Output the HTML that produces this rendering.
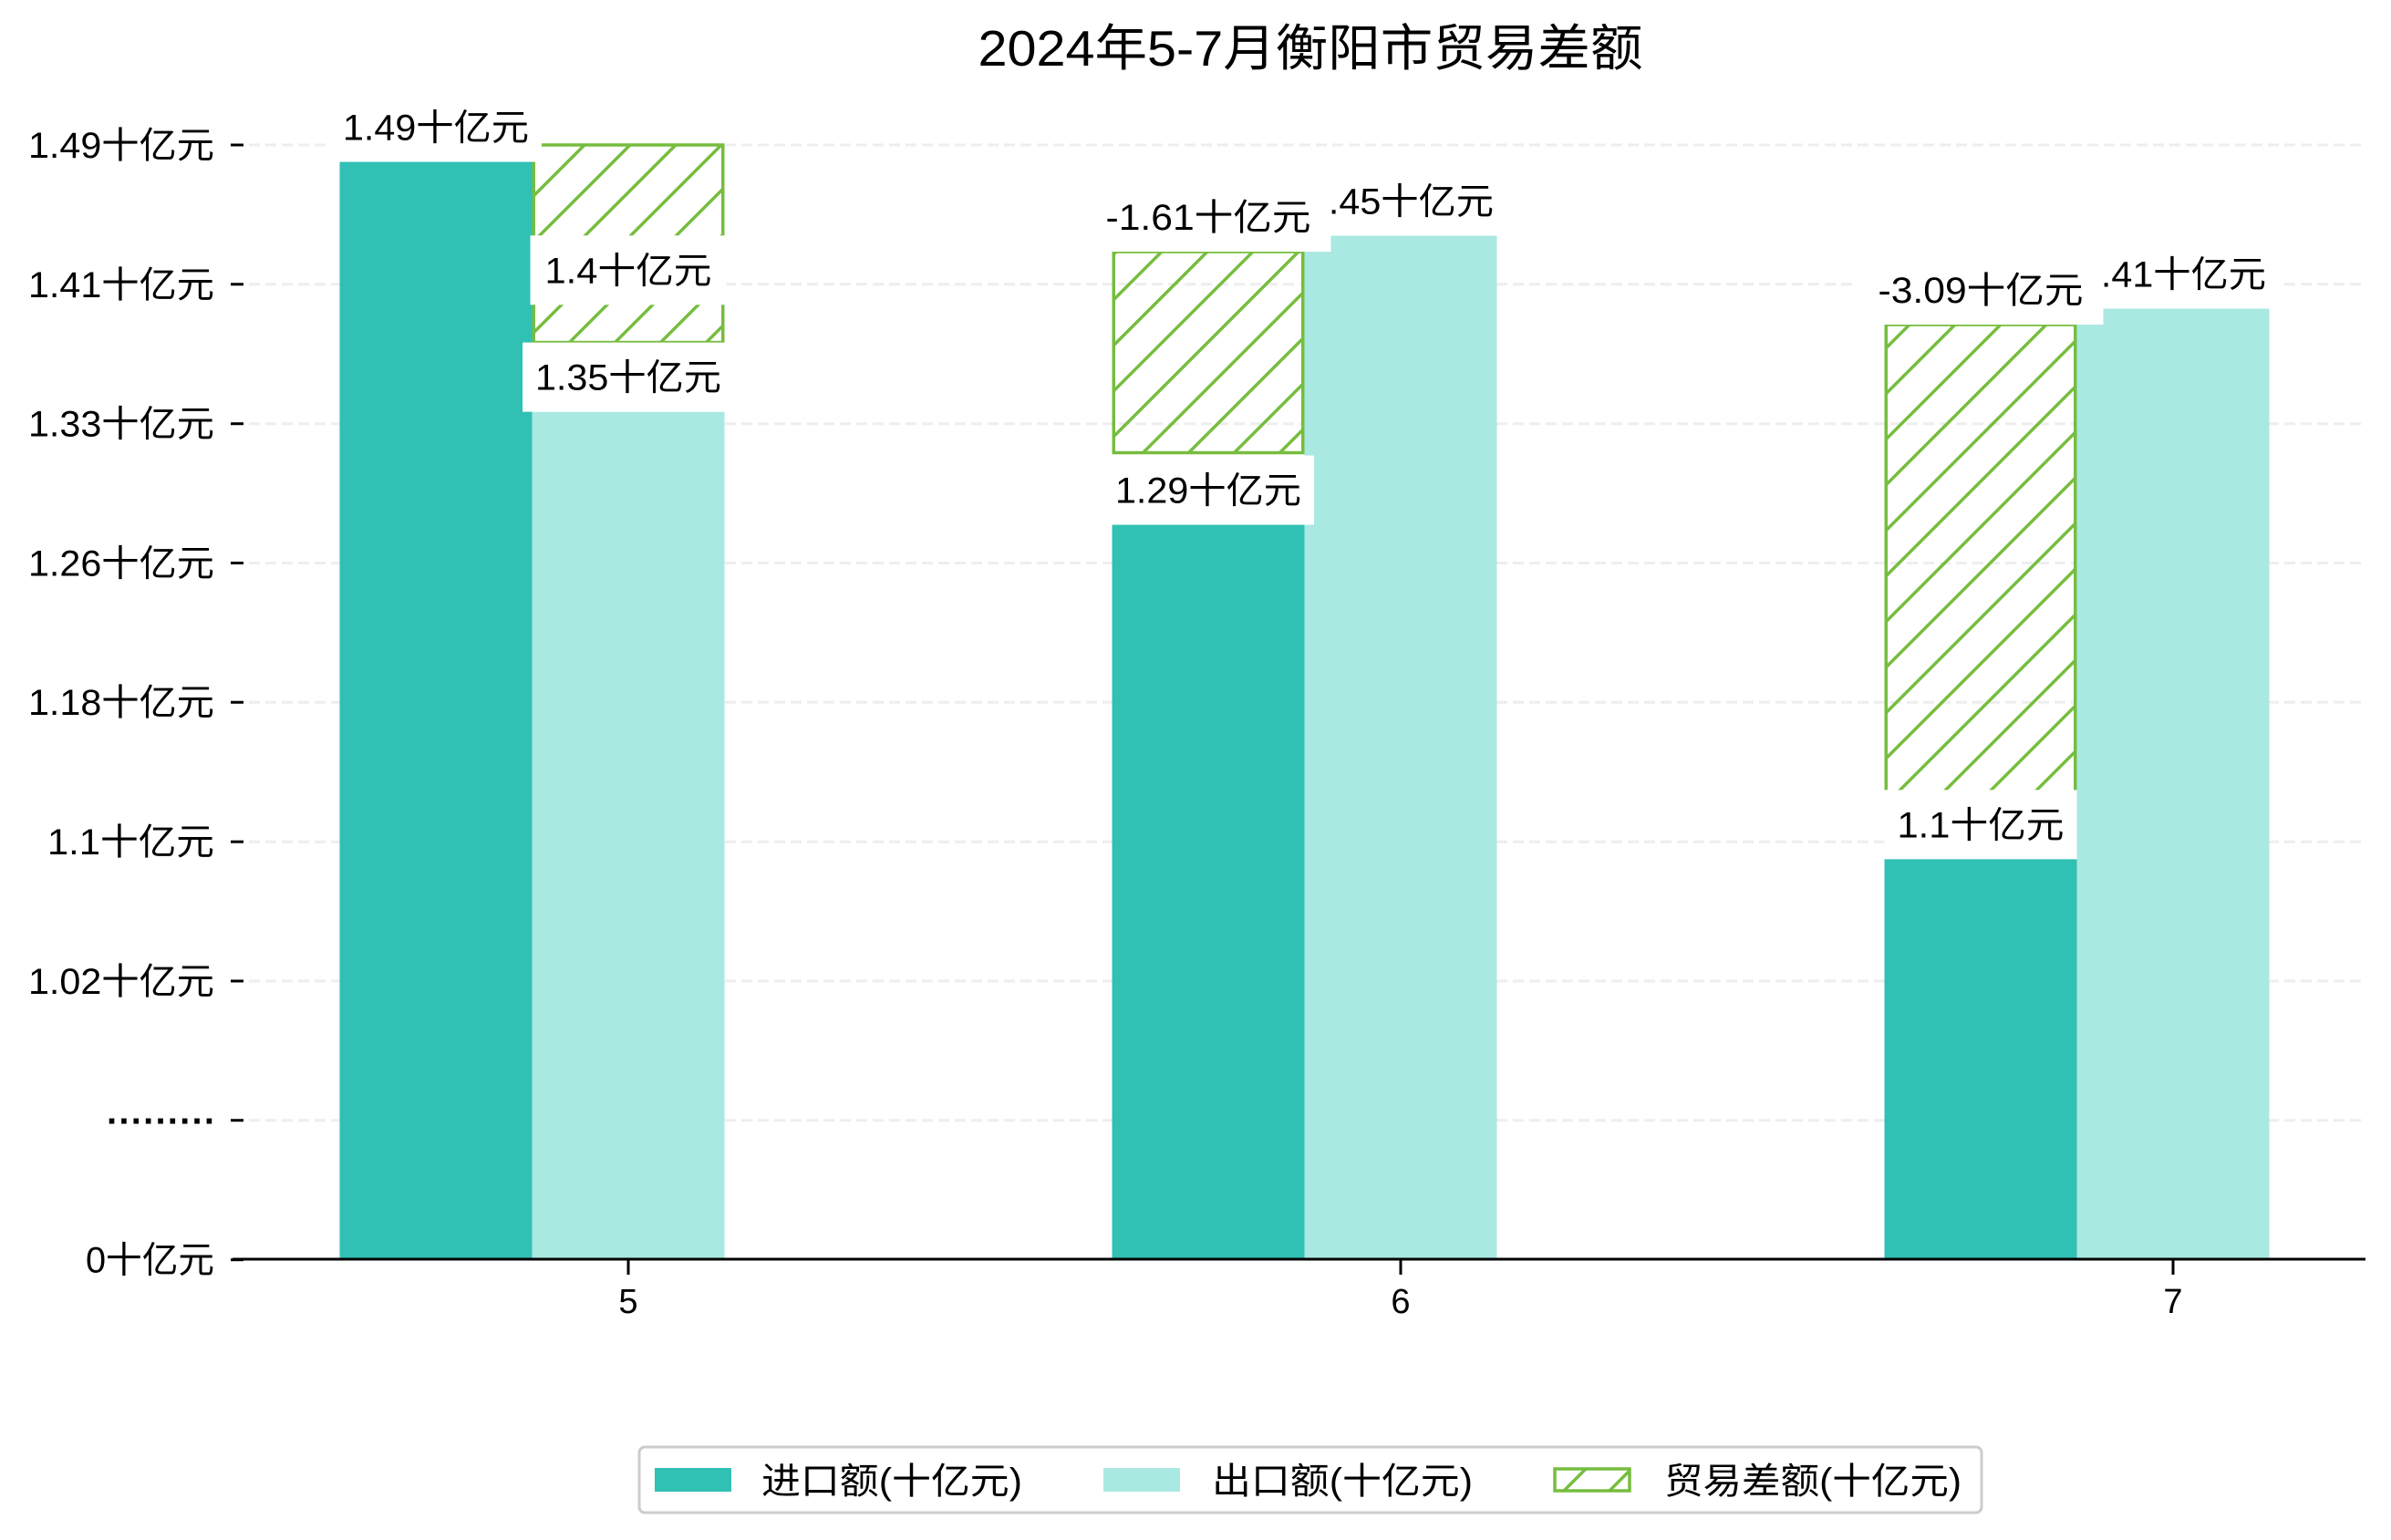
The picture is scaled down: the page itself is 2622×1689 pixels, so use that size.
<!DOCTYPE html>
<html><head><meta charset="utf-8">
<style>
html,body{margin:0;padding:0;background:#fff;}
svg{display:block;font-family:"Liberation Sans","Noto Sans CJK SC",sans-serif;}
</style></head>
<body>
<svg id="chart" width="2622" height="1689" viewBox="0 0 2622 1689" xmlns="http://www.w3.org/2000/svg">
<defs>
<pattern id="hatch" patternUnits="userSpaceOnUse" width="50" height="50">
<path d="M-5,5 L5,-5 M0,50 L50,0 M45,55 L55,45" stroke="#76BD3F" stroke-width="3.5"/>
</pattern>
</defs>
<text x="1437" y="72" font-size="55" text-anchor="middle" textLength="729" lengthAdjust="spacingAndGlyphs">2024年5-7月衡阳市贸易差额</text>
<g id="grid"></g>
<g id="bars"></g>
<g id="labels"></g>
<g id="axes"></g>
<g>
<rect x="701" y="1587" width="1472" height="72" rx="6" fill="#fff" stroke="#ccc" stroke-width="3"/>
<rect x="718" y="1610" width="84" height="26" fill="#31C0B4"/>
<text x="835" y="1638" font-size="40" textLength="286" lengthAdjust="spacingAndGlyphs">进口额(十亿元)</text>
<rect x="1210" y="1610" width="84" height="26" fill="#AAE8E2"/>
<text x="1329" y="1638" font-size="40" textLength="286" lengthAdjust="spacingAndGlyphs">出口额(十亿元)</text>
<rect x="1705" y="1611" width="82" height="24" fill="url(#hatch)" stroke="#76BD3F" stroke-width="3.5"/>
<text x="1825" y="1638" font-size="40" textLength="326" lengthAdjust="spacingAndGlyphs">贸易差额(十亿元)</text>
</g>
</svg>
<script>
const categories = ["5","6","7"];
const importValues = [1.481, 1.277, 1.089];
const exportValues = [1.340, 1.439, 1.398];
const balanceTop = [1.490, 1.430, 1.389];
const balanceBottom = [1.379, 1.317, 1.126];
const importLabels = ["1.49十亿元","1.29十亿元","1.1十亿元"];
const exportLabels = ["1.35十亿元","1.45十亿元","1.41十亿元"];
const balanceLabels = ["1.4十亿元","-1.61十亿元","-3.09十亿元"];
const yTickValues = [1.49,1.4117,1.3333,1.255,1.1767,1.0983,1.02,0.9417,0.8633];
const yTickLabels = ["1.49十亿元","1.41十亿元","1.33十亿元","1.26十亿元","1.18十亿元","1.1十亿元","1.02十亿元",".........","0十亿元"];

const NS = "http://www.w3.org/2000/svg";
const baseY = 1381, plotL = 255, plotR = 2594;
function yScale(v){ return 159 + (1.49 - v) * 1951; }
function xCenter(i){ return 689 + i * 847; }
const barW = 211;
function mk(tag, attrs, parent){ const e=document.createElementNS(NS,tag); for(const k in attrs) e.setAttribute(k,attrs[k]); parent.appendChild(e); return e; }
function textW(s){ let w=0; for(const ch of s){ w += (ch.charCodeAt(0)>255)?40:21; } return w; }

const grid=document.getElementById('grid'), bars=document.getElementById('bars'), labels=document.getElementById('labels'), axes=document.getElementById('axes');

yTickValues.forEach((v,i)=>{
  const y=yScale(v);
  if(i<yTickValues.length-1){
    const g=mk('line',{x1:plotL,x2:plotR,y1:y,y2:y,stroke:'#eeeeee','stroke-width':3,'stroke-dasharray':'12 6'},grid);
    
    
  }
  const t=mk('line',{x1:253,x2:267,y1:y,y2:y,stroke:'#000','stroke-width':3},axes);
  
  
  const s=yTickLabels[i];
  const tx=mk('text',{x:235,y:y+14,'font-size':40,'text-anchor':'end'},axes);
  if(s.indexOf('.........')===0){ tx.setAttribute('font-weight','bold'); tx.setAttribute('y',y+4); tx.setAttribute('textLength',118); tx.setAttribute('lengthAdjust','spacing'); } else { tx.setAttribute('textLength',textW(s)); tx.setAttribute('lengthAdjust','spacingAndGlyphs'); }
  tx.textContent=s;
  
  
});

function labelBox(cx, cy, s, name, pad){
  const w=textW(s);
  const r=mk('rect',{x:cx-w/2-pad,y:cy-38,width:w+2*pad,height:76,fill:'#fff'},labels);
  
  
  const t=mk('text',{x:cx,y:cy+14,'font-size':40,'text-anchor':'middle',textLength:w,lengthAdjust:'spacingAndGlyphs'},labels);
  t.textContent=s;
  
  
}

categories.forEach((c,i)=>{
  const xc=xCenter(i);
  const xi=xc-barW*1.5, xe=xc-barW/2;
  const yi=yScale(importValues[i]), ye=yScale(exportValues[i]);
  const bi=mk('rect',{x:xi,y:yi,width:barW,height:baseY-yi,fill:'#31C0B4'},bars);
  
  
  const be=mk('rect',{x:xe,y:ye,width:barW,height:baseY-ye,fill:'#AAE8E2'},bars);
  
  
  const overExport = importValues[i] > exportValues[i];
  const xh = overExport ? xe : xi;
  const yt=yScale(balanceTop[i]), yb=yScale(balanceBottom[i]);
  const bh=mk('rect',{x:xh+1.75,y:yt,width:barW-3.5,height:yb-yt,fill:'url(#hatch)',stroke:'#76BD3F','stroke-width':3.5},bars);
  
  
  const tk=mk('line',{x1:xc,x2:xc,y1:baseY,y2:baseY+17,stroke:'#000','stroke-width':3},axes);
  
  
  const xl=mk('text',{x:xc,y:1440,'font-size':38,'text-anchor':'middle'},axes);
  xl.textContent=c;
  
  
});

categories.forEach((c,i)=>{
  const xc=xCenter(i);
  labelBox(xc-barW, yScale(importValues[i])-37, importLabels[i], 'import-value-label', 14);
});
categories.forEach((c,i)=>{
  const xc=xCenter(i);
  labelBox(xc, yScale(exportValues[i])-38, exportLabels[i], 'export-value-label', 14);
});
categories.forEach((c,i)=>{
  const xc=xCenter(i);
  const overExport = importValues[i] > exportValues[i];
  const yt=yScale(balanceTop[i]), yb=yScale(balanceBottom[i]);
  if(overExport) labelBox(xc, (yt+yb)/2+29, balanceLabels[i], 'balance-value-label', 16);
  else labelBox(xc-barW, yt-38, balanceLabels[i], 'balance-value-label', 22);
});

const ax=mk('line',{x1:plotL,x2:plotR,y1:baseY,y2:baseY,stroke:'#000','stroke-width':3},axes);


</script>
</body></html>
